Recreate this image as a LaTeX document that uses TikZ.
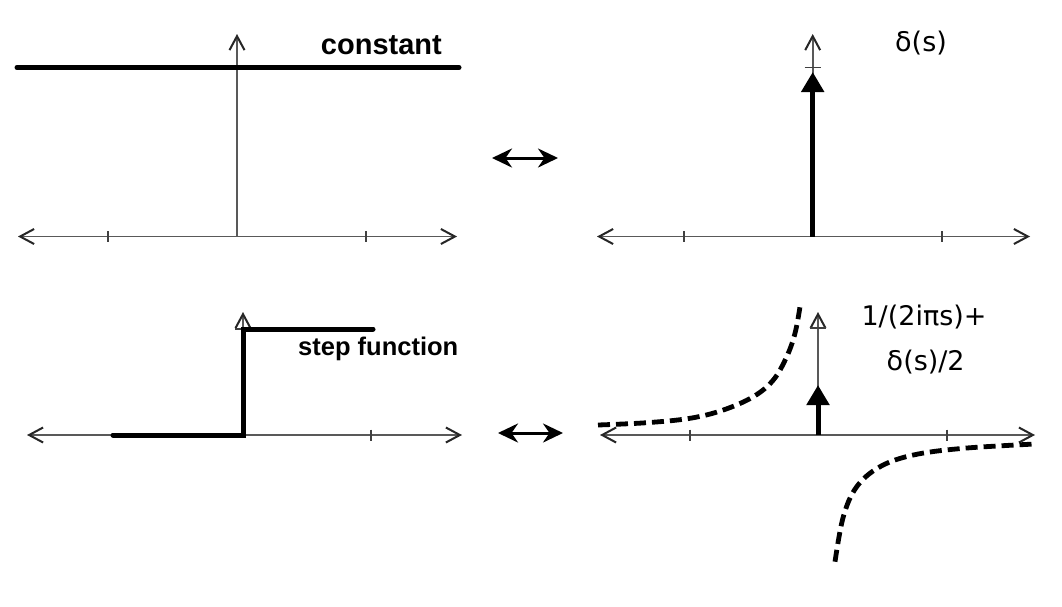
\documentclass[tikz,border=0pt]{standalone}
\usepackage{fontspec}
\usetikzlibrary{arrows.meta}
\newfontfamily\labfont{DejaVu Sans}
\newfontfamily\boldlab{Liberation Sans}
\tikzset{
  barb/.tip={Straight Barb[length=14pt,width=15pt,line width=2pt,color=black!85]},
  axis/.style={draw=black!65, line width=1.6pt, barb-barb},
  yaxis/.style={draw=black!65, line width=1.6pt, -barb},
  tickmark/.style={draw=black!75, line width=1.3pt},
  fn/.style={draw=black, line width=5pt},
  impulse/.style={draw=black, line width=5pt, -{Triangle[length=20pt,width=22pt]}},
  dashfn/.style={draw=black, line width=4.8pt, dash pattern=on 12pt off 6pt},
  pair/.style={draw=black, line width=3pt, {Stealth[length=20pt,width=19pt]}-{Stealth[length=20pt,width=19pt]}},
  boldlabel/.style={font=\boldlab\bfseries\fontsize{29}{34}\selectfont, inner sep=0pt},
  label/.style={font=\labfont\fontsize{27}{32}\selectfont, inner sep=0pt}
}
\begin{document}
\begin{tikzpicture}[x=1pt,y=-1pt]
\useasboundingbox[fill=white] (0,0) rectangle (1062,606);

% ---------- panel 1: constant ----------
\coordinate (p1l) at (18,236.5);
\coordinate (p1r) at (457,236.5);
\coordinate (p1o) at (237,236.5);
\coordinate (p1t) at (237,34);
\draw[axis] (p1l) -- (p1r);
\draw[yaxis] (p1o) -- (p1t);
\draw[tickmark] (108,231) -- (108,242);
\draw[tickmark] (366,231) -- (366,242);
\coordinate (c1) at (17,67.5);
\coordinate (c2) at (459,67.5);
\draw[fn, line cap=round] (c1) -- (c2);
\node[boldlabel, anchor=base east] (lconst) at (442,54) {constant};

% ---------- panel 2: delta ----------
\coordinate (p2l) at (597,236.5);
\coordinate (p2r) at (1030,236.5);
\coordinate (p2o) at (812.7,236.5);
\coordinate (p2t) at (812.7,34);
\draw[axis] (p2l) -- (p2r);
\draw[yaxis] (p2o) -- (p2t);
\draw[tickmark] (684,231) -- (684,242);
\draw[tickmark] (942,231) -- (942,242);
\draw[tickmark] (804.7,67.7) -- (820.7,67.7);
\coordinate (d1) at (812.7,72);
\draw[impulse] (p2o) -- (d1);
\node[label, anchor=base west] (ldelta) at (895,51.5) {δ(s)};

% ---------- panel 3: step ----------
\coordinate (p3l) at (27,435);
\coordinate (p3r) at (462,435);
\coordinate (p3o) at (243,435);
\coordinate (p3t) at (243,312);
\draw[axis] (p3l) -- (p3r);
\draw[yaxis] (p3o) -- (p3t);
\draw[tickmark] (371,429.5) -- (371,440.5);
\draw[tickmark] (235,329) -- (251,329);
\coordinate (s1) at (113,435);
\coordinate (s2) at (373,329);
\draw[fn, line cap=round] (s1) -- (p3o) -- (243,329) -- (s2);
\node[boldlabel, anchor=base west, font=\boldlab\bfseries\fontsize{25.5}{30}\selectfont] (lstep) at (298,355) {step function};

% ---------- panel 4: 1/(2 i pi s) + delta/2 ----------
\coordinate (p4l) at (600,435);
\coordinate (p4r) at (1035,435);
\coordinate (p4o) at (818,435);
\coordinate (p4t) at (818,312);
\draw[axis] (p4l) -- (p4r);
\draw[yaxis] (p4o) -- (p4t);
\draw[tickmark] (690,429.5) -- (690,440.5);
\draw[tickmark] (947,429.5) -- (947,440.5);
\draw[tickmark] (810,328) -- (826,328);
\coordinate (d2) at (818,385);
\draw[impulse] (p4o) -- (d2);
\draw[dashfn] plot[smooth, tension=0.6] coordinates {(598,425) (646.7,422.7) (690,418.3) (723.3,410) (753.3,396.7) (773.3,380) (786.7,356.7) (795,333.3) (800,306.7)};
\draw[dashfn] plot[smooth, tension=0.6] coordinates {(835,561.7) (843.3,516.7) (856.7,486.7) (880,466.7) (913.3,455) (963.3,448.3) (1035,444)};
\node[label, anchor=base] (lsum1) at (924,325) {1/(2iπs)+};
\node[label, anchor=base] (lsum2) at (925.7,370) {δ(s)/2};

% ---------- transform pair arrows ----------
\coordinate (a1) at (492,158);
\coordinate (a2) at (558,158);
\draw[pair] (a1) -- (a2);
\coordinate (b1) at (498,433);
\coordinate (b2) at (563,433);
\draw[pair] (b1) -- (b2);
\end{tikzpicture}
\end{document}
